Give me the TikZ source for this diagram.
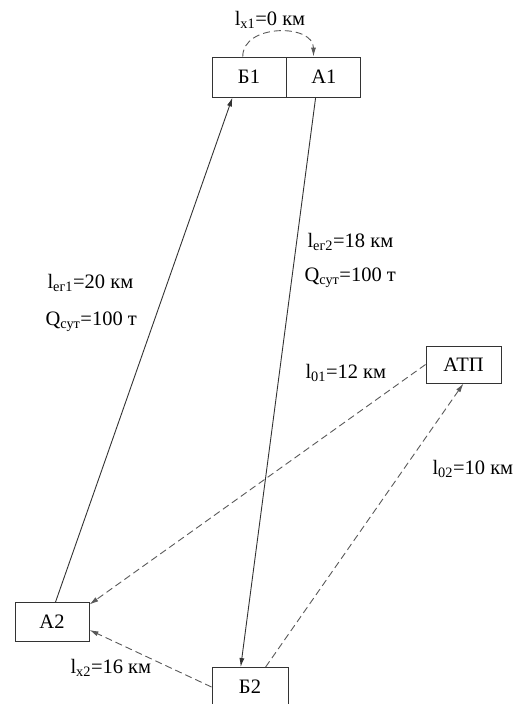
\documentclass[tikz,border=0pt]{standalone}
\usepackage{fontspec}
\setmainfont{Liberation Serif}
\usetikzlibrary{arrows.meta, positioning, calc}

\begin{document}
\begin{tikzpicture}[x=1pt, y=1pt, font=\fontsize{20.5}{24}\selectfont, >={Latex[length=9pt,width=5pt]}]
    \useasboundingbox (0,0) rectangle (517,-704);
    \tikzset{pt/.style={draw, black!80, text=black, line width=0.9pt, minimum width=74pt, minimum height=39pt, inner sep=0pt},
             run/.style={->, line width=0.9pt, black!80},
             idle/.style={->, line width=0.9pt, black!65, dash pattern=on 7pt off 4pt}}
    % Б1 и А1
    \node[pt, minimum height=40pt] (b1) at (249,-77) {Б1};
    \node[pt, minimum height=40pt, right=0pt of b1] (a1) {А1};
    % А2
    \node[pt] (a2) at (52,-622) {А2};
    % Б2
    \node[pt, minimum width=76pt] (b2) at (250,-687) {Б2};
    % АТП
    \node[pt, minimum width=75pt, minimum height=37pt] (atp) at (463.5,-364.5) {АТП};

    % подписи
    \node (lx1) at (270,-20) {l\textsubscript{х1}=0 км};
    \node[anchor=west] (leg1) at (44,-283) {l\textsubscript{ег1}=20 км};
    \node[anchor=west] (q1) at (42,-322) {Q\textsubscript{сут}=100 т};
    \node[anchor=west] (leg2) at (304,-242) {l\textsubscript{ег2}=18 км};
    \node[anchor=west] (q2) at (301,-278) {Q\textsubscript{сут}=100 т};
    \node[anchor=west] (l01) at (302,-373) {l\textsubscript{01}=12 км};
    \node[anchor=west] (l02) at (429,-469) {l\textsubscript{02}=10 км};
    \node[anchor=west] (lx2) at (67,-668) {l\textsubscript{х2}=16 км};

    \draw[idle] (b1.107) .. controls +(0,33) and +(0,33) .. (a1.117);
    \draw[run] (a2.80) -- (b1.-129);
    \draw[run] (a1.-112) -- (b2.115);
    \draw[idle] (atp.west) -- (a2.25);
    \draw[idle] (b2.52) -- (atp.south);
    \draw[idle] (b2.west) -- (a2.-12);
\end{tikzpicture}
\end{document}
